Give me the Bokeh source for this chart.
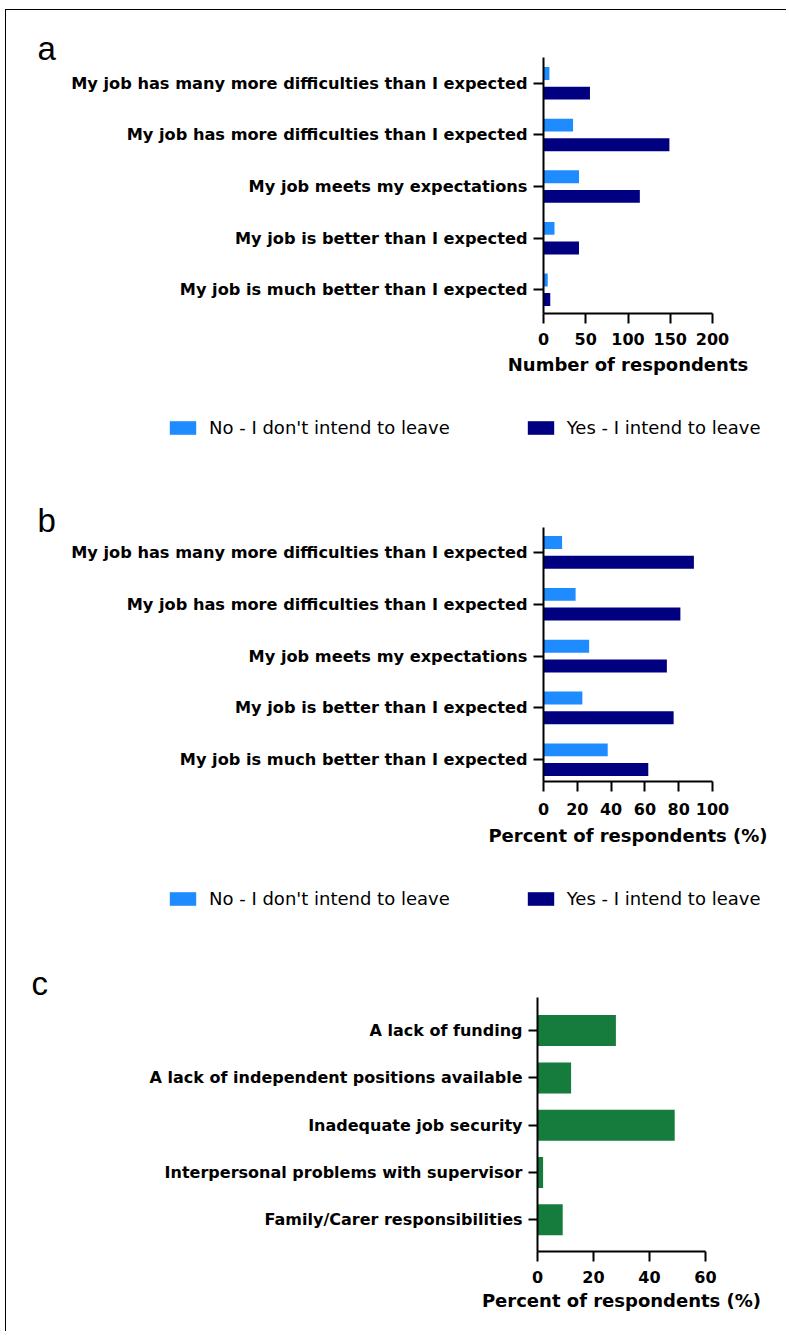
from bokeh.plotting import figure
from bokeh.layouts import column
from bokeh.models import (Range1d, FixedTicker, Legend, LegendItem,
                          ColumnDataSource)
from bokeh.transform import dodge
from bokeh.embed import file_html
from bokeh.resources import INLINE

# ---- data -------------------------------------------------------------
statements = [
    "My job has many more difficulties than I expected",
    "My job has more difficulties than I expected",
    "My job meets my expectations",
    "My job is better than I expected",
    "My job is much better than I expected",
]
no_counts = [7, 35, 42, 13, 5]
yes_counts = [55, 149, 114, 42, 8]
no_percent = [11, 19, 27, 23, 38]
yes_percent = [89, 81, 73, 77, 62]

reasons = [
    "A lack of funding",
    "A lack of independent positions available",
    "Inadequate job security",
    "Interpersonal problems with supervisor",
    "Family/Carer responsibilities",
]
reason_percent = [28, 12, 49, 2, 9]

count_ticks = [0, 50, 100, 150, 200]
percent_ticks_b = [0, 20, 40, 60, 80, 100]
percent_ticks_c = [0, 20, 40, 60]

legend_labels = ["No - I don't intend to leave", "Yes - I intend to leave"]

rows = [5, 4, 3, 2, 1]  # first item drawn at the top

LIGHT = "#1E8CFF"
DARK = "#000080"
GREEN = "#167C3E"
MAIN_FONT = "DejaVu Sans"
LETTER_FONT = "Liberation Sans"
FIG_W = 780


def style_axes(p, xticks, xlabel, labels, x_standoff, title_standoff,
               tick_out=10, standoff=6, label_size="16px"):
    p.xgrid.visible = False
    p.ygrid.visible = False
    p.outline_line_color = None
    p.background_fill_color = None
    p.border_fill_color = None

    xa = p.xaxis[0]
    xa.ticker = FixedTicker(ticks=xticks)
    xa.axis_label = xlabel
    for ax in (p.xaxis[0], p.yaxis[0]):
        ax.axis_line_width = 2
        ax.axis_line_color = "black"
        ax.major_tick_line_width = 2
        ax.major_tick_line_color = "black"
        ax.major_tick_in = 0
        ax.minor_tick_line_color = None
        ax.major_label_text_font = MAIN_FONT
        ax.major_label_text_font_style = "bold"
        ax.major_label_text_font_size = "16px"
        ax.major_label_text_color = "black"
    xa.major_tick_out = 10
    xa.major_label_standoff = x_standoff
    xa.axis_label_text_font = MAIN_FONT
    xa.axis_label_text_font_style = "bold"
    xa.axis_label_text_font_size = "18px"
    xa.axis_label_text_color = "black"
    xa.axis_label_standoff = title_standoff

    ya = p.yaxis[0]
    ya.ticker = FixedTicker(ticks=rows)
    ya.major_label_overrides = {r: lab for r, lab in zip(rows, labels)}
    ya.major_label_text_font_size = label_size
    ya.major_tick_out = tick_out
    ya.major_label_standoff = standoff


def make_fig(height, frame_w, frame_h, left, top, x_end, y_range, letter,
             letter_standoff):
    right = FIG_W - left - frame_w
    bottom = height - top - frame_h
    p = figure(width=FIG_W, height=height,
               frame_width=frame_w, frame_height=frame_h, frame_align=False,
               min_border_left=left, min_border_right=right,
               min_border_top=top, min_border_bottom=bottom,
               x_range=Range1d(0, x_end), y_range=Range1d(*y_range),
               output_backend="svg", toolbar_location=None, tools="")
    # panel letter sits in the title slot, pulled out to the left edge
    p.title.text = letter
    p.title.align = "left"
    p.title.offset = -506
    p.title.standoff = letter_standoff
    p.title.text_font = LETTER_FONT
    p.title.text_font_size = "33px"
    p.title.text_font_style = "normal"
    p.title.text_color = "black"
    return p


def grouped_panel(no_vals, yes_vals, x_end, xticks, xlabel, height, top,
                  frame_h, y_range, letter, letter_standoff, x_standoff,
                  title_standoff):
    p = make_fig(height, 169, frame_h, 537, top, x_end, y_range, letter,
                 letter_standoff)
    src = ColumnDataSource(dict(row=rows, no=no_vals, yes=yes_vals))
    p.hbar(y=dodge("row", 0.19), left=0, right="no", height=0.25,
           source=src, fill_color=LIGHT, line_color=None)
    p.hbar(y=dodge("row", -0.19), left=0, right="yes", height=0.25,
           source=src, fill_color=DARK, line_color=None)
    style_axes(p, xticks, xlabel, statements, x_standoff, title_standoff,
               label_size="16.2px")
    return p


def legend_row(height, legend_x, legend_y):
    """A strip holding the two-series key shared by panels a and b."""
    p = figure(width=FIG_W, height=height, x_axis_type=None,
               y_axis_type=None, x_range=Range1d(0, 1),
               y_range=Range1d(0, 1), min_border=0, frame_align=False,
               output_backend="svg", toolbar_location=None, tools="")
    p.outline_line_color = None
    p.background_fill_color = None
    p.border_fill_color = None
    # zero-length swatch bars: they only supply the key's colours
    key_no = p.hbar(y=[-1], left=[0], right=[0], height=0.5,
                    fill_color=LIGHT, line_color=None)
    key_yes = p.hbar(y=[-1], left=[0], right=[0], height=0.5,
                     fill_color=DARK, line_color=None)
    legend = Legend(items=[
        LegendItem(label=legend_labels[0], renderers=[key_no]),
        LegendItem(label=legend_labels[1], renderers=[key_yes]),
    ], orientation="horizontal", location=(legend_x, legend_y),
        glyph_width=33, glyph_height=17, label_standoff=10, spacing=74,
        padding=0, margin=0, border_line_color=None,
        background_fill_alpha=0, label_text_font=MAIN_FONT,
        label_text_font_size="18px", label_text_color="black")
    p.add_layout(legend)
    return p


# frame a: page x 543-712, y 57-313
fig_a = grouped_panel(no_counts, yes_counts, 200, count_ticks,
                      "Number of respondents", 390, 47, 256,
                      (0.54, 5.5), "a", -19, 9, 6)
key_a = legend_row(70, 160, 32)

# frame b: page x 543-712, y 527-781
fig_b = grouped_panel(no_percent, yes_percent, 100, percent_ticks_b,
                      "Percent of respondents (%)", 400, 57, 254,
                      (0.58, 5.48), "b", -22, 11, 7)
key_b = legend_row(70, 160, 31)

# frame c: page x 537-705, y 997-1251
fig_c = make_fig(391, 168, 254, 531, 57, 60, (0.33, 5.7), "c", -8)
fig_c.hbar(y=rows, left=0, right=reason_percent, height=0.655,
           fill_color=GREEN, line_color=None)
style_axes(fig_c, percent_ticks_c, "Percent of respondents (%)", reasons,
           9, 4, tick_out=9, standoff=6)

page = column(fig_a, key_a, fig_b, key_b, fig_c, margin=(9, 0, 0, 5),
              styles={"border-top": "1px solid black",
                      "border-left": "1px solid black"})

with open("out.html", "w") as f:
    f.write(file_html(page, INLINE))
